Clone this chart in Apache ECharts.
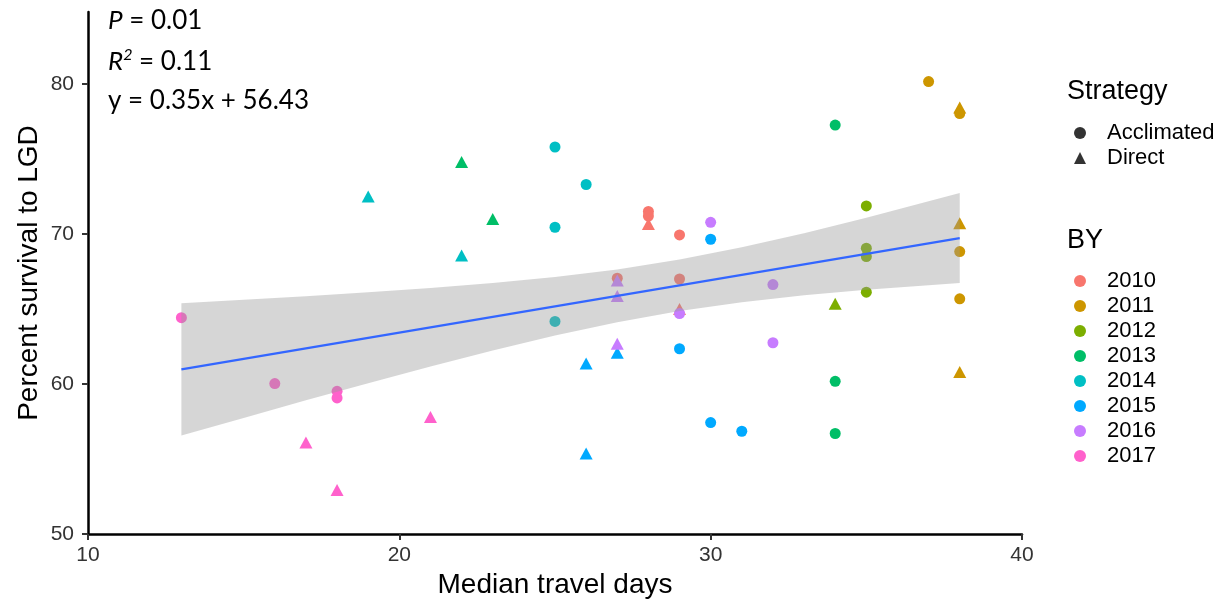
<!DOCTYPE html>
<html>
<head>
<meta charset="utf-8">
<script src="https://cdn.jsdelivr.net/npm/echarts@6/dist/echarts.min.js"></script>
<style>html,body{margin:0;padding:0;background:#fff}#chart{width:1228px;height:609px}</style>
</head>
<body>
<div id="chart"></div>
<script>
// ---- data ----
const years = ['2010','2011','2012','2013','2014','2015','2016','2017'];
const strategies = ['Acclimated','Direct'];
// [median travel days, percent survival, strategy A/D]
const by2010 = [[27,67.05,'A'],[28,71.5,'A'],[28,71.2,'A'],[28,70.67,'D'],[29,69.94,'A'],[29,67.0,'A'],[29,65.0,'D']];
const by2011 = [[37,80.16,'A'],[38,78.43,'D'],[38,78.03,'A'],[38,70.71,'D'],[38,68.83,'A'],[38,65.68,'A'],[38,60.8,'D']];
const by2012 = [[35,71.87,'A'],[35,69.05,'A'],[35,68.5,'A'],[35,66.12,'A'],[34,65.35,'D']];
const by2013 = [[22,74.8,'D'],[23,71.0,'D'],[34,77.26,'A'],[34,60.18,'A'],[34,56.7,'A']];
const by2014 = [[19,72.5,'D'],[22,68.56,'D'],[25,75.8,'A'],[26,73.3,'A'],[25,70.45,'A'],[25,64.17,'A']];
const by2015 = [[30,69.65,'A'],[29,62.35,'A'],[27,62.09,'D'],[26,61.36,'D'],[30,57.43,'A'],[31,56.85,'A'],[26,55.37,'D']];
const by2016 = [[30,70.78,'A'],[27,66.9,'D'],[27,65.86,'D'],[29,64.7,'A'],[32,66.63,'A'],[27,62.69,'D'],[32,62.75,'A']];
const by2017 = [[13,64.42,'A'],[16,60.03,'A'],[18,59.51,'A'],[18,59.07,'A'],[17,56.1,'D'],[21,57.8,'D'],[18,52.93,'D']];
const yearData = [by2010, by2011, by2012, by2013, by2014, by2015, by2016, by2017];
// fitted line endpoints and confidence band
const fitLine = [[13,60.98],[38,69.73]];
const bandX     = [13,   15,   17,   19,   21,   23,   25,   27,   29,   31,   33,   35,   38];
const bandUpper = [65.39,65.62,65.85,66.11,66.40,66.73,67.13,67.64,68.30,69.11,70.05,71.08,72.73];
const bandLower = [56.57,57.74,58.91,60.05,61.16,62.23,63.23,64.12,64.86,65.45,65.91,66.28,66.73];
const xTicks = [10,20,30,40];
const yTicks = [50,60,70,80];

// ---- styles ----
const colors = ['#F8766D','#CD9600','#7CAE00','#00BE67','#00BFC4','#00A9FF','#C77CFF','#FF61CC'];
const tickFont = 'Liberation Sans, Arial, sans-serif';
const annFont = 'Lato, Open Sans, sans-serif';

const chart = echarts.init(document.getElementById('chart'), null, {renderer:'canvas'});

const series = [];
years.forEach((y, i) => {
  series.push({
    name: y, type: 'scatter', z: 2,
    data: yearData[i],
    symbol: v => v[2] === 'D' ? 'triangle' : 'circle',
    symbolSize: v => v[2] === 'D' ? [13, 12] : 11,
    itemStyle: {color: colors[i], opacity: 1},
    emphasis: {disabled: true}
  });
});
series.push({name:'Acclimated', type:'scatter', data:[], symbol:'circle', itemStyle:{color:'#000'}});
series.push({name:'Direct', type:'scatter', data:[], symbol:'triangle', itemStyle:{color:'#000'}});
series.push({
  type: 'custom', z: 3, silent: true,
  data: [[bandX[0], bandUpper[0]]],
  renderItem: function(params, api) {
    const pts = [];
    for (let i = 0; i < bandX.length; i++) pts.push(api.coord([bandX[i], bandUpper[i]]));
    for (let i = bandX.length - 1; i >= 0; i--) pts.push(api.coord([bandX[i], bandLower[i]]));
    return {type:'polygon', shape:{points: pts, smooth: 0}, style:{fill:'rgba(153,153,153,0.4)'}};
  }
});
series.push({
  type: 'line', z: 4, silent: true, data: fitLine, symbol: 'none',
  lineStyle: {color:'#3366FF', width: 2.2}
});

const option = {
  animation: false,
  backgroundColor: '#fff',
  grid: {left: 88, right: 206, top: 12, bottom: 75, containLabel: false},
  xAxis: {
    type: 'value', min: 10, max: 40, interval: 10,
    name: 'Median travel days', nameLocation: 'middle', nameGap: 37, nameMoveOverlap: false,
    nameTextStyle: {fontFamily: tickFont, fontSize: 28, color: '#000'},
    axisLine: {lineStyle: {color: '#000', width: 2.5}},
    axisTick: {show: true, length: 6, lineStyle: {color: '#333', width: 2}, customValues: xTicks},
    axisLabel: {fontFamily: tickFont, fontSize: 21, color: '#333', margin: 11, customValues: xTicks},
    splitLine: {show: false}
  },
  yAxis: {
    type: 'value', min: 50, max: 84.8, interval: 10,
    name: 'Percent survival to LGD', nameLocation: 'middle', nameGap: 45, nameRotate: 90, nameMoveOverlap: false,
    nameTextStyle: {fontFamily: tickFont, fontSize: 28, color: '#000'},
    axisLine: {show: true, lineStyle: {color: '#000', width: 2.5}},
    axisTick: {show: true, length: 6, lineStyle: {color: '#333', width: 2}, customValues: yTicks},
    axisLabel: {fontFamily: tickFont, fontSize: 21, color: '#333', margin: 14, customValues: yTicks},
    splitLine: {show: false}
  },
  legend: [
    {
      orient: 'vertical', left: 1069, top: 117, itemWidth: 12, itemHeight: 12, itemGap: 3,
      data: [{name:'Acclimated', icon:'circle'}, {name:'Direct', icon:'triangle'}],
      textStyle: {fontFamily: tickFont, fontSize: 22, color: '#000', lineHeight: 22, padding: [0,0,0,16]},
      selectedMode: false
    },
    {
      orient: 'vertical', left: 1069, top: 265, itemWidth: 12, itemHeight: 12, itemGap: 3,
      data: years.map(y => ({name: y, icon: 'circle'})),
      textStyle: {fontFamily: tickFont, fontSize: 22, color: '#000', lineHeight: 22, padding: [0,0,0,16]},
      selectedMode: false
    }
  ],
  graphic: [
    {type:'text', x: 1067, y: 92, style:{text:'Strategy', font: '27px ' + tickFont, fill:'#000', verticalAlign:'middle'}},
    {type:'text', x: 1067, y: 241, style:{text:'BY', font: '27px ' + tickFont, fill:'#000', verticalAlign:'middle'}},
    {type:'text', x: 108, y: 21, style:{
      text: '{i|P} = 0.01', verticalAlign:'middle',
      font: '26px ' + annFont, fill:'#000',
      rich: {i: {fontStyle:'italic', fontSize: 26, fontFamily: annFont}}
    }},
    {type:'text', x: 108, y: 62, style:{
      text: '{i|R}{s|2} = 0.11', verticalAlign:'middle',
      font: '26px ' + annFont, fill:'#000', lineHeight: 30,
      rich: {
        i: {fontStyle:'italic', fontSize: 26, fontFamily: annFont, lineHeight: 30},
        s: {fontStyle:'italic', fontSize: 16, fontFamily: annFont, verticalAlign: 'top', lineHeight: 18}
      }
    }},
    {type:'text', x: 108, y: 101, style:{text:'y = 0.35x + 56.43', font: '26px ' + annFont, fill:'#000', verticalAlign:'middle'}}
  ],
  series: series
};
chart.setOption(option);
</script>
</body>
</html>
